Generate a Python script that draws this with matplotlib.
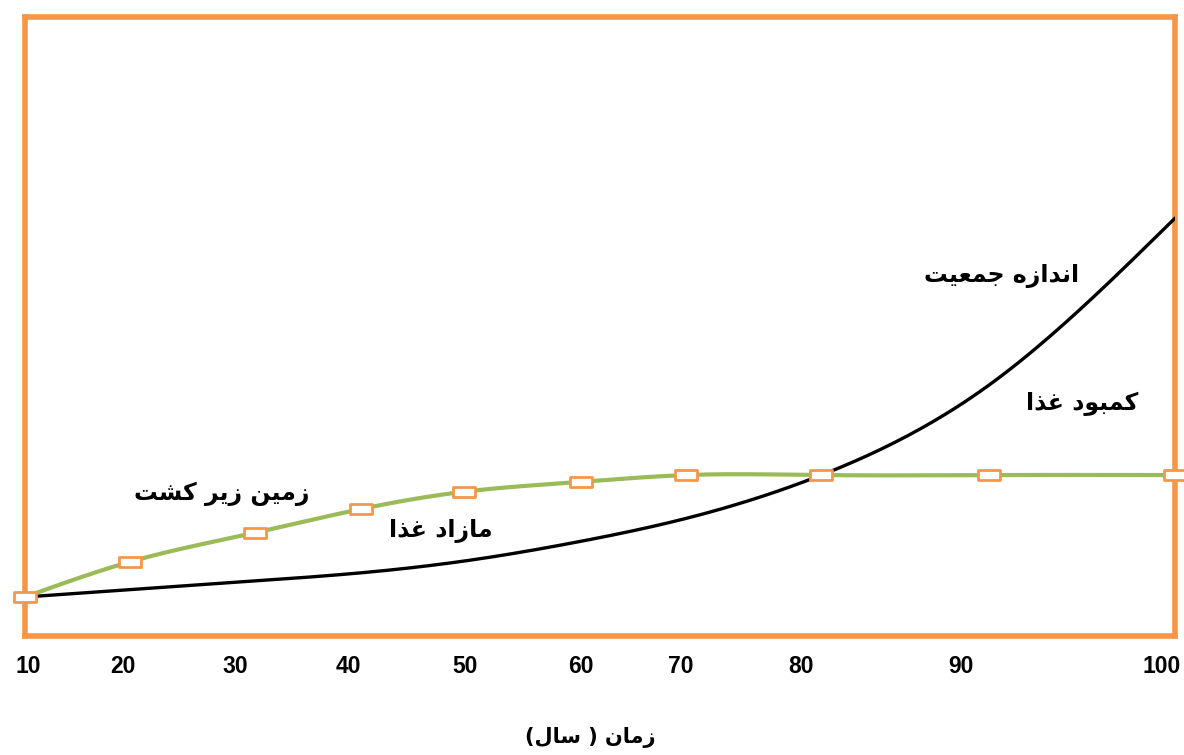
import numpy as np
import matplotlib
matplotlib.use('Agg')
import matplotlib.pyplot as plt
from matplotlib.path import Path

# ==========================================
# DATA
# ==========================================
years = [10, 20, 30, 40, 50, 60, 70, 80, 90, 100]
population = [6.3, 7.5, 8.9, 10.2, 12.1, 15.3, 19.0, 26.0, 40.5, 67.5]
farmland = [6.3, 12.0, 16.7, 20.5, 23.3, 24.9, 26.0, 26.0, 26.0, 26.0]
tick_labels = ['10', '20', '30', '40', '50', '60', '70', '80', '90', '100']

label_population = 'اندازه جمعیت'
label_shortage = 'کمبود غذا'
label_farmland = 'زمین زیر کشت'
label_surplus = 'مازاد غذا'
x_title = 'زمان ( سال)'

# ==========================================
# LAYOUT
# ==========================================
# where each year sits along the frame (fraction of width) - the source is hand drawn
year_frac = [0.0, 0.0915, 0.2003, 0.2918, 0.3815, 0.4834, 0.5749, 0.6925, 0.8380, 1.0]
# where the tick labels are printed (fraction of width)
tick_frac = [0.003, 0.085, 0.183, 0.281, 0.383, 0.483, 0.570, 0.675, 0.814, 0.988]

ORANGE = '#F79646'
GREEN = '#9BBB59'

# ==========================================
# simple Persian shaping (matplotlib has no RTL / joining support)
# ==========================================
FORMS = {
    'ا': (0xFE8D, 0xFE8E, None, None),
    'ب': (0xFE8F, 0xFE90, 0xFE91, 0xFE92),
    'ت': (0xFE95, 0xFE96, 0xFE97, 0xFE98),
    'ج': (0xFE9D, 0xFE9E, 0xFE9F, 0xFEA0),
    'د': (0xFEA9, 0xFEAA, None, None),
    'ذ': (0xFEAB, 0xFEAC, None, None),
    'ر': (0xFEAD, 0xFEAE, None, None),
    'ز': (0xFEAF, 0xFEB0, None, None),
    'س': (0xFEB1, 0xFEB2, 0xFEB3, 0xFEB4),
    'ش': (0xFEB5, 0xFEB6, 0xFEB7, 0xFEB8),
    'ع': (0xFEC9, 0xFECA, 0xFECB, 0xFECC),
    'غ': (0xFECD, 0xFECE, 0xFECF, 0xFED0),
    'ل': (0xFEDD, 0xFEDE, 0xFEDF, 0xFEE0),
    'م': (0xFEE1, 0xFEE2, 0xFEE3, 0xFEE4),
    'ن': (0xFEE5, 0xFEE6, 0xFEE7, 0xFEE8),
    'ه': (0xFEE9, 0xFEEA, 0xFEEB, 0xFEEC),
    'و': (0xFEED, 0xFEEE, None, None),
    'ی': (0xFBFC, 0xFBFD, 0xFBFE, 0xFBFF),
    'ک': (0xFB8E, 0xFB8F, 0xFB90, 0xFB91),
}


def fa(text):
    out = []
    for i, c in enumerate(text):
        if c not in FORMS:
            out.append(c)
            continue
        prev = text[i - 1] if i > 0 else ''
        nxt = text[i + 1] if i + 1 < len(text) else ''
        jp = prev in FORMS and FORMS[prev][2] is not None
        jn = FORMS[c][2] is not None and nxt in FORMS
        iso, fin, ini, med = FORMS[c]
        if jp and jn:
            g = med
        elif jp:
            g = fin
        elif jn:
            g = ini
        else:
            g = iso
        out.append(chr(g))
    vis = ''.join(out)[::-1]
    mirror = {'(': ')', ')': '('}
    return ''.join(mirror.get(ch, ch) for ch in vis)


def smooth(xf, y, n=40):
    # natural cubic spline through the points, done in frame coordinates
    x = np.asarray(xf, float)
    y = np.asarray(y, float)
    m = len(x)
    h = np.diff(x)
    A = np.zeros((m, m))
    b = np.zeros(m)
    A[0, 0] = A[-1, -1] = 1.0
    for i in range(1, m - 1):
        A[i, i - 1] = h[i - 1]
        A[i, i] = 2 * (h[i - 1] + h[i])
        A[i, i + 1] = h[i]
        b[i] = 6 * ((y[i + 1] - y[i]) / h[i] - (y[i] - y[i - 1]) / h[i - 1])
    M = np.linalg.solve(A, b)
    xs, ys = [], []
    for k in range(m - 1):
        t = np.linspace(x[k], x[k + 1], n)
        if k > 0:
            t = t[1:]
        a = x[k + 1] - t
        c = t - x[k]
        yy = (M[k] * a ** 3 + M[k + 1] * c ** 3) / (6 * h[k]) \
            + (y[k] / h[k] - M[k] * h[k] / 6) * a + (y[k + 1] / h[k] - M[k + 1] * h[k] / 6) * c
        xs.append(t)
        ys.append(yy)
    return np.concatenate(xs), np.concatenate(ys)


def fwd(x):
    return np.interp(x, years, year_frac)


def inv(f):
    return np.interp(f, year_frac, years)


plt.rcParams['font.family'] = ['DejaVu Sans']

fig = plt.figure(figsize=(11.84, 7.55), dpi=100)
ax = fig.add_axes([25 / 1184, 119 / 755, 1150 / 1184, 619 / 755])
ax.set_xscale('function', functions=(fwd, inv))
ax.set_xlim(10, 100)
ax.set_ylim(0, 100)

# population curve
fx, fy = smooth(year_frac, population)
ax.plot(inv(fx), fy, color='black', lw=2.4, solid_capstyle='round', zorder=3)

# farmland curve with markers
gx, gy = smooth(year_frac, farmland)
ax.plot(inv(gx), gy, color=GREEN, lw=3.0, solid_capstyle='round', zorder=4)
rect = Path([(-1, -0.48), (1, -0.48), (1, 0.48), (-1, 0.48), (-1, -0.48)],
            [Path.MOVETO, Path.LINETO, Path.LINETO, Path.LINETO, Path.CLOSEPOLY])
ax.plot(years, farmland, ls='none', marker=rect, markersize=16, markerfacecolor='white',
        markeredgecolor=ORANGE, markeredgewidth=2.0, zorder=5, clip_on=False)

# frame
for s in ax.spines.values():
    s.set_color(ORANGE)
    s.set_linewidth(4)
    s.set_capstyle('projecting')
    s.set_zorder(2)

ax.set_yticks([])
ax.set_xticks(inv(np.array(tick_frac)))
ax.set_xticklabels(tick_labels, fontsize=16.5, fontweight='bold', family='Liberation Sans')
ax.tick_params(axis='x', length=0, pad=14)
ax.xaxis.set_minor_locator(matplotlib.ticker.NullLocator())

# annotations
def note(txt, px, py, size=17):
    fig.text(px / 1184, 1 - py / 755, fa(txt), ha='center', va='center',
             fontsize=size, fontweight='bold')

note(label_population, 1002, 276)
note(label_shortage, 1082, 404)
note(label_farmland, 222, 494)
note(label_surplus, 441, 531)
note(x_title, 590, 738, size=15)

fig.savefig('out.png', dpi=100)
